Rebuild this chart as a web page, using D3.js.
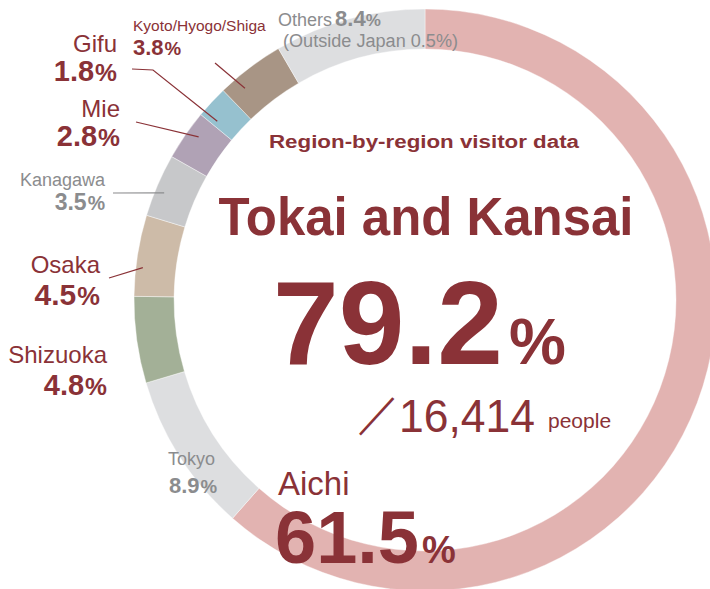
<!DOCTYPE html>
<html><head><meta charset="utf-8">
<script src="https://cdn.jsdelivr.net/npm/d3@7"></script>
<style>
html,body{margin:0;padding:0;background:#fff;}
text{font-family:"Liberation Sans",Arial,Helvetica,sans-serif;}
</style></head>
<body><svg id="c" width="710" height="589"></svg>
<script>
// Data
const regions = ["Aichi","Tokyo","Shizuoka","Osaka","Kanagawa","Mie","Gifu","Kyoto/Hyogo/Shiga","Others"];
const shares  = [61.5, 8.9, 4.8, 4.5, 3.5, 2.8, 1.8, 3.8, 8.4];
const colors  = ["#e2b3b1","#dddee0","#a3b097","#cdbba8","#c7c8ca","#b0a2b5","#96c1cf","#a89585","#dddee0"];
const headline = "Region-by-region visitor data";
const groupName = "Tokai and Kansai";
const groupShare = "79.2";
const totalPeople = "16,414";
const othersNote = "(Outside Japan 0.5%)";

const RED = "#8a3237", GRAY = "#8b8c8e";
const svg = d3.select("#c");
const cx = 425, cy = 300, R = 291, r = 251;
const g = svg.append("g").attr("transform", `translate(${cx},${cy})`);

const pie = d3.pie().sort(null).value(d => d)(shares);
const arc = d3.arc().innerRadius(r).outerRadius(R);
g.selectAll("path").data(pie).join("path")
  .attr("d", arc).attr("fill", (d,i) => colors[i])
  .attr("stroke", "#fff").attr("stroke-width", 0.4);

function pt(i, frac, rad) {
  const a = pie[i].startAngle + (pie[i].endAngle - pie[i].startAngle) * frac;
  return [cx + Math.sin(a) * rad, cy - Math.cos(a) * rad];
}

// Leader lines
function leader(i, pts, frac, rad, color) {
  const end = pt(i, frac, rad);
  svg.append("polyline").attr("points", pts.concat([end]).map(p => p.join(",")).join(" "))
    .attr("fill", "none").attr("stroke", color).attr("stroke-width", 1.2);
}
leader(6, [[132,69],[153,70]], 0.17, 274, RED);
leader(5, [[136,122]], 0.62, 279, RED);
leader(7, [[215,63]], 0.26, 278, RED);
leader(4, [[113,193]], 0.43, 282, GRAY);
leader(3, [[109,278]], 0.36, 284, RED);

function label(x, y, txt, size, color, weight, anchor, len) {
  const t = svg.append("text").attr("x", x).attr("y", y).attr("font-size", size)
    .attr("fill", color).attr("font-weight", weight || "normal")
    .attr("text-anchor", anchor || "start").text(txt);
  if (len) t.attr("textLength", len).attr("lengthAdjust", "spacingAndGlyphs");
  return t;
}
function pct(x, y, val, size, color, anchor) {
  const t = svg.append("text").attr("x", x).attr("y", y).attr("font-size", size)
    .attr("fill", color).attr("font-weight", "bold").attr("text-anchor", anchor || "start");
  t.append("tspan").text(val);
  t.append("tspan").attr("font-size", size * 0.85).attr("dx", 1).text("%");
  return t;
}

// Left labels
label(117, 52, regions[6], 24, RED, "normal", "end");
pct(117, 81, shares[6].toFixed(1), 29, RED, "end");
label(120, 117, regions[5], 24, RED, "normal", "end");
pct(120, 146, shares[5].toFixed(1), 29, RED, "end");
label(133, 31, regions[7], 15.5, RED, "normal", "start");
pct(133, 55, shares[7].toFixed(1), 22, RED, "start");
label(105, 186, regions[4], 18, GRAY, "normal", "end");
pct(105, 210, shares[4].toFixed(1), 23, GRAY, "end");
label(100, 273, regions[3], 24, RED, "normal", "end");
pct(100, 305, shares[3].toFixed(1), 30, RED, "end");
label(107, 363, regions[2], 24, RED, "normal", "end");
pct(107, 395, shares[2].toFixed(1), 29, RED, "end");
label(168, 465, regions[1], 18, GRAY, "normal", "start");
pct(169, 493, shares[1].toFixed(1), 22, GRAY, "start");

// Others
{
  const t = svg.append("text").attr("x", 278).attr("y", 26).attr("fill", GRAY);
  t.append("tspan").attr("font-size", 18).text(regions[8] + " ");
  t.append("tspan").attr("font-size", 22).attr("font-weight", "bold").attr("dx", -2).text(shares[8].toFixed(1));
  t.append("tspan").attr("font-size", 17).attr("font-weight", "bold").text("%");
  label(283, 47, othersNote, 18, GRAY, "normal", "start", 175);
}

// Aichi
label(278, 495, regions[0], 33, RED, "normal", "start");
{
  const t = svg.append("text").attr("x", 275).attr("y", 563).attr("fill", RED).attr("font-weight", "bold");
  t.append("tspan").attr("font-size", 74).text(shares[0].toFixed(1));
  t.append("tspan").attr("font-size", 38).attr("dx", 3).text("%");
}

// Center texts
label(424, 148, headline, 18, RED, "bold", "middle", 310);
label(426, 235, groupName, 53, RED, "bold", "middle", 415);
{
  const t = svg.append("text").attr("x", 273).attr("y", 364).attr("fill", RED).attr("font-weight", "bold");
  t.append("tspan").attr("font-size", 118).attr("textLength", 230).attr("lengthAdjust","spacingAndGlyphs").text(groupShare);
  t.append("tspan").attr("font-size", 64).attr("dx", 6).text("%");
}
{
  svg.append("text").attr("x", 357).attr("y", 428).attr("font-size", 44)
    .attr("font-family", "'Noto Sans CJK JP'").attr("fill", RED).text("／");
  label(399, 432, totalPeople, 46, RED, "normal", "start", 136);
  label(548, 428, "people", 21, RED, "normal", "start");
}
</script></body></html>
